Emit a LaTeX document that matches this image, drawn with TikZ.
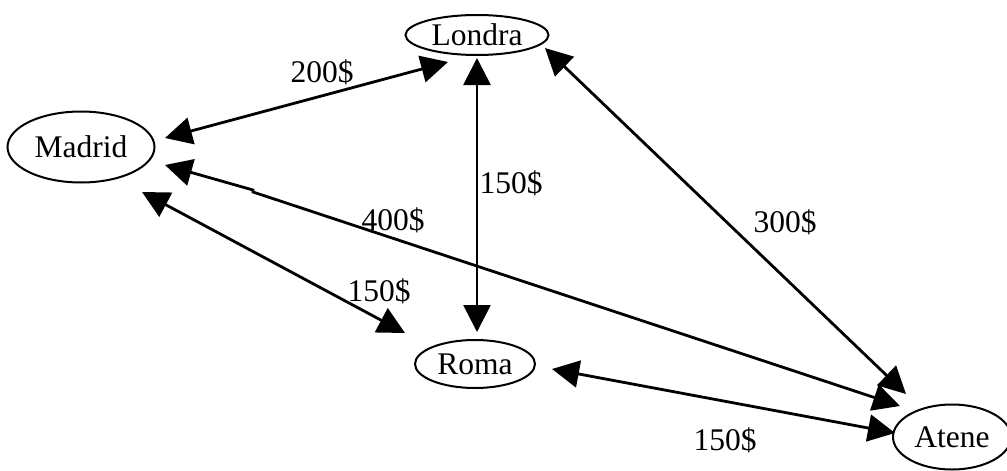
\documentclass[tikz,border=0pt]{standalone}
\usepackage{fontspec}
\setmainfont{Liberation Serif}
\usetikzlibrary{shapes.geometric,arrows.meta}
\begin{document}
\begin{tikzpicture}[x=1pt,y=-1pt,
  city/.style={ellipse,draw,line width=2pt,inner sep=0pt,
    font=\fontsize{31.5}{36}\selectfont},
  price/.style={inner sep=0pt,font=\fontsize{31.5}{36}\selectfont},
  route/.style={line width=2.8pt,
    {Triangle[length=27pt,width=27pt]}-{Triangle[length=27pt,width=27pt]}}]
\useasboundingbox (0,0) rectangle (1007,471);

% cities
\node[city,minimum width=143pt,minimum height=40pt] (londra) at (477,35) {Londra};
\node[city,minimum width=147pt,minimum height=71pt] (madrid) at (81,147) {Madrid};
\node[city,minimum width=120pt,minimum height=48pt] (roma) at (475,364) {Roma};
\node[city,minimum width=118pt,minimum height=65pt] (atene) at (952,437) {Atene};

% arrow ends, set a little off the ellipses
\coordinate (mL) at (165,138);
\coordinate (lM) at (448,62);
\coordinate (lR) at (477,58);
\coordinate (rL) at (477,332);
\coordinate (lA) at (545,48);
\coordinate (aL) at (906,394);
\coordinate (mA) at (165,165);
\coordinate (kA) at (253,190);
\coordinate (kB) at (253,192);
\coordinate (aM) at (900,406);
\coordinate (mR) at (142,192);
\coordinate (rM) at (405,333);
\coordinate (rA) at (552,369);
\coordinate (aR) at (895,433);

% routes
\draw[route] (mL) -- (lM);
\draw[route] (lR) -- (rL);
\draw[route] (lA) -- (aL);
\draw[route] (mA) -- (kA) -- (kB) -- (aM);
\draw[route] (mR) -- (rM);
\draw[route] (rA) -- (aR);

% prices
\node[price] (p1) at (322,72) {200\$};
\node[price] (p2) at (511,183) {150\$};
\node[price] (p3) at (393,220) {400\$};
\node[price] (p4) at (785,222) {300\$};
\node[price] (p5) at (379,291) {150\$};
\node[price] (p6) at (725,440) {150\$};
\end{tikzpicture}
\end{document}
